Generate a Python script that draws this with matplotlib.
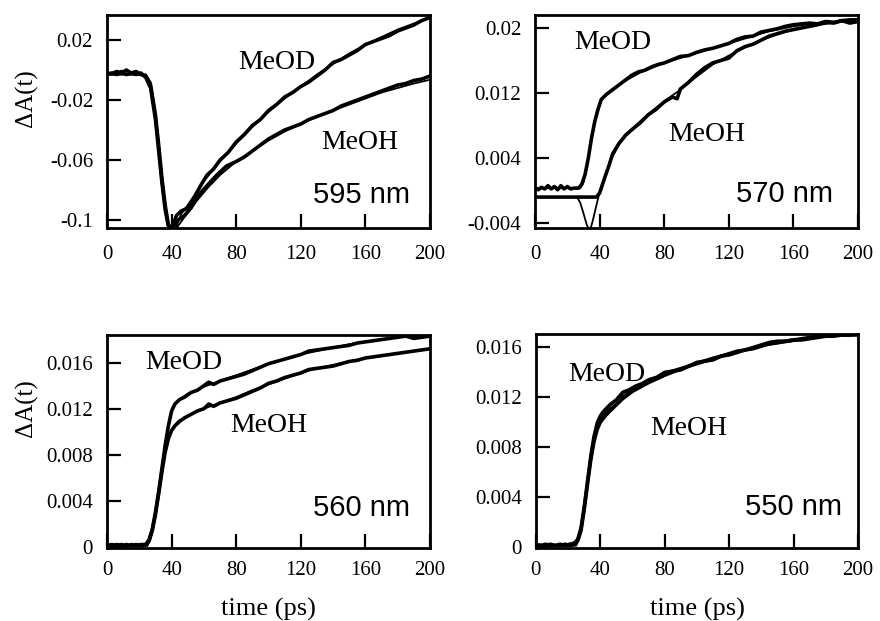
import matplotlib
matplotlib.use("Agg")
import matplotlib.pyplot as plt

# ---------------- 595 nm ----------------
t595_od = [0, 3, 6, 9, 12, 15, 18, 21, 24, 27, 30, 32, 34, 36, 38, 40, 43, 46, 50, 54, 58, 62, 66,
           70, 75, 80, 85, 90, 95, 100, 105, 110, 115, 120, 125, 130, 135, 140, 145, 150, 155,
           160, 165, 170, 175, 180, 185, 190, 195, 200]
d595_od = [-0.002, -0.0025, -0.001, -0.002, 0.0, -0.002, -0.001, -0.003, -0.004, -0.010, -0.030,
           -0.050, -0.072, -0.090, -0.103, -0.106, -0.097, -0.094, -0.092, -0.085, -0.077, -0.070,
           -0.066, -0.060, -0.055, -0.048, -0.043, -0.037, -0.033, -0.027, -0.023, -0.018, -0.015,
           -0.011, -0.008, -0.004, 0.000, 0.005, 0.007, 0.010, 0.013, 0.017, 0.019, 0.021, 0.023,
           0.026, 0.028, 0.030, 0.033, 0.035]
tf595_od = [0, 24, 27, 30, 33, 36, 38, 40, 43, 46, 50, 55, 60, 70, 80, 90, 100, 110, 120, 130, 140,
            150, 160, 170, 180, 190, 200]
f595_od = [-0.003, -0.003, -0.008, -0.028, -0.060, -0.090, -0.105, -0.112, -0.104, -0.096, -0.090,
           -0.082, -0.074, -0.061, -0.049, -0.038, -0.028, -0.019, -0.011, -0.003, 0.004, 0.011,
           0.017, 0.022, 0.027, 0.031, 0.035]
t595_oh = [0, 3, 6, 9, 12, 15, 18, 21, 24, 27, 30, 32, 34, 36, 38, 40, 44, 48, 52, 57, 62, 68, 74,
           80, 85, 90, 95, 100, 105, 110, 115, 120, 125, 130, 135, 140, 145, 150, 155, 160, 165,
           170, 175, 180, 185, 190, 195, 200]
d595_oh = [-0.003, -0.002, -0.003, -0.001, -0.003, -0.002, -0.003, -0.002, -0.005, -0.012, -0.033,
           -0.054, -0.075, -0.093, -0.104, -0.106, -0.100, -0.097, -0.092, -0.083, -0.077, -0.070,
           -0.064, -0.061, -0.058, -0.054, -0.050, -0.046, -0.043, -0.040, -0.038, -0.036, -0.033,
           -0.031, -0.029, -0.027, -0.024, -0.022, -0.020, -0.018, -0.016, -0.014, -0.012, -0.010,
           -0.009, -0.007, -0.006, -0.004]
tf595_oh = [0, 24, 27, 30, 33, 36, 38, 40, 44, 48, 55, 62, 70, 80, 90, 100, 110, 120, 130, 140,
            150, 160, 170, 180, 190, 200]
f595_oh = [-0.003, -0.003, -0.009, -0.030, -0.062, -0.092, -0.106, -0.110, -0.104, -0.098, -0.088,
           -0.079, -0.070, -0.061, -0.054, -0.047, -0.041, -0.036, -0.031, -0.027, -0.023, -0.019,
           -0.015, -0.012, -0.009, -0.0065]

# ---------------- 570 nm ----------------
t570_od = [0, 2, 4, 6, 8, 10, 12, 14, 16, 18, 20, 22, 24, 27, 29, 31, 33, 35, 37, 39, 41, 44, 48,
           52, 56, 60, 64, 68, 72, 76, 80, 85, 90, 95, 100, 105, 110, 115, 120, 125, 130, 135,
           140, 145, 150, 155, 160, 165, 170, 175, 180, 185, 190, 195, 200]
d570_od = [0.0003, 0.0001, 0.0004, 0.0002, 0.0006, 0.0002, 0.0005, 0.0001, 0.0006, 0.0002, 0.0005,
           0.0002, 0.0003, 0.0003, 0.0008, 0.002, 0.004, 0.0065, 0.0085, 0.010, 0.0112, 0.0118,
           0.0124, 0.013, 0.0136, 0.0142, 0.0146, 0.0148, 0.0152, 0.0155, 0.0157, 0.0161, 0.0165,
           0.0166, 0.017, 0.0173, 0.0175, 0.0178, 0.0181, 0.0186, 0.0189, 0.0190, 0.0195, 0.0197,
           0.0199, 0.0202, 0.0204, 0.0205, 0.0206, 0.0205, 0.0208, 0.0207, 0.0209, 0.0206, 0.0208]
tf570_od = [0, 28, 30, 32, 34, 36, 38, 40, 43, 48, 55, 65, 75, 85, 100, 115, 130, 145, 160, 175,
            190, 200]
f570_od = [0.0003, 0.0003, 0.001, 0.0028, 0.005, 0.0075, 0.0095, 0.0108, 0.0117, 0.0125, 0.0134,
           0.0145, 0.0153, 0.016, 0.0169, 0.0178, 0.0187, 0.0196, 0.0202, 0.0206, 0.0208, 0.0209]
t570_oh = [0, 38, 40, 43, 46, 48, 52, 56, 60, 65, 70, 75, 80, 85, 88, 90, 95, 100, 105, 110, 115,
           120, 125, 130, 135, 140, 145, 150, 155, 160, 165, 170, 175, 180, 185, 190, 195, 200]
d570_oh = [-0.0008, -0.0008, -0.0003, 0.0015, 0.0032, 0.0045, 0.0058, 0.0068, 0.0075, 0.0083,
           0.0093, 0.0100, 0.0109, 0.0115, 0.0113, 0.0125, 0.0133, 0.0143, 0.0151, 0.0157, 0.016,
           0.0163, 0.0172, 0.0177, 0.018, 0.0185, 0.019, 0.0193, 0.0196, 0.0198, 0.020, 0.0202,
           0.0204, 0.0207, 0.0206, 0.0209, 0.0210, 0.0210]
tf570_oh = [0, 26, 28, 30, 32, 34, 36, 38, 40, 43, 47, 52, 60, 70, 80, 90, 100, 110, 120, 130, 140,
            150, 160, 170, 180, 190, 200]
f570_oh = [-0.0008, -0.0008, -0.0015, -0.0028, -0.0042, -0.0050, -0.0035, -0.0018, -0.0002, 0.0016,
           0.0038, 0.0057, 0.0076, 0.0094, 0.0110, 0.0124, 0.0140, 0.0155, 0.0166, 0.0176, 0.0185,
           0.0192, 0.0198, 0.0202, 0.0205, 0.0208, 0.0210]

# ---------------- 560 nm ----------------
t560 = [0, 3, 6, 9, 12, 15, 18, 21, 24, 26, 28, 30, 32, 34, 36, 38, 40, 42, 45, 48, 52, 56, 60, 63,
        66, 70, 75, 80, 85, 90, 95, 100, 105, 110, 115, 120, 125, 130, 135, 140, 145, 150, 155,
        160, 165, 170, 175, 180, 185, 190, 195, 200]
d560_od = [0.0001, 0.0002, 0.0001, 0.0002, 0.0, 0.0002, 0.0001, 0.0002, 0.0002, 0.0006, 0.0015,
           0.003, 0.0048, 0.0068, 0.0088, 0.0105, 0.0118, 0.0124, 0.0128, 0.013, 0.0134, 0.0136,
           0.0140, 0.0143, 0.0141, 0.0144, 0.0146, 0.0148, 0.015, 0.0153, 0.0156, 0.0159, 0.0161,
           0.0163, 0.0165, 0.0167, 0.0170, 0.0171, 0.0172, 0.0173, 0.0174, 0.0175, 0.0177, 0.0178,
           0.0179, 0.0180, 0.0181, 0.0182, 0.0183, 0.0181, 0.0182, 0.0183]
d560_oh = [0.0002, 0.0001, 0.0002, 0.0001, 0.0002, 0.0001, 0.0002, 0.0001, 0.0002, 0.0005, 0.0014,
           0.0028, 0.0046, 0.0065, 0.0082, 0.0094, 0.0101, 0.0105, 0.0109, 0.0112, 0.0115, 0.0118,
           0.0120, 0.0124, 0.0122, 0.0125, 0.0127, 0.0129, 0.0132, 0.0135, 0.0138, 0.0142, 0.0144,
           0.0147, 0.0149, 0.0151, 0.0154, 0.0155, 0.0156, 0.0157, 0.0159, 0.0161, 0.0162, 0.0164,
           0.0165, 0.0166, 0.0167, 0.0168, 0.0169, 0.0170, 0.0171, 0.0172]
tf560 = [0, 25, 27, 29, 31, 33, 35, 37, 39, 41, 44, 50, 60, 70, 80, 90, 100, 110, 120, 130, 140,
         150, 160, 170, 180, 190, 200]
f560_od = [0.0001, 0.0001, 0.0008, 0.002, 0.0037, 0.0057, 0.0078, 0.0098, 0.0113, 0.0121, 0.0127,
           0.0133, 0.0139, 0.0144, 0.0149, 0.0154, 0.0159, 0.0163, 0.0167, 0.0170, 0.0173, 0.0176,
           0.0178, 0.0180, 0.0182, 0.0183, 0.0184]
f560_oh = [0.0001, 0.0001, 0.0007, 0.0019, 0.0036, 0.0055, 0.0073, 0.0088, 0.0098, 0.0104, 0.0109,
           0.0114, 0.0120, 0.0125, 0.0130, 0.0136, 0.0141, 0.0146, 0.0151, 0.0155, 0.0158, 0.0161,
           0.0164, 0.0166, 0.0168, 0.0170, 0.0172]

# ---------------- 550 nm ----------------
t550 = [0, 3, 6, 9, 12, 15, 18, 21, 24, 26, 28, 30, 32, 34, 36, 38, 40, 43, 46, 50, 54, 58, 62, 66,
        70, 75, 80, 85, 90, 95, 100, 105, 110, 115, 120, 125, 130, 135, 140, 145, 150, 155, 160,
        165, 170, 175, 180, 185, 190, 195, 200]
d550_od = [0.0001, 0.0001, 0.0002, 0.0001, 0.0001, 0.0002, 0.0001, 0.0002, 0.0003, 0.0006, 0.0015,
           0.0032, 0.0052, 0.0072, 0.0088, 0.0099, 0.0105, 0.0110, 0.0114, 0.0118, 0.0124, 0.0126,
           0.0129, 0.0131, 0.0134, 0.0136, 0.0140, 0.0141, 0.0143, 0.0145, 0.0148, 0.0149, 0.0151,
           0.0153, 0.0155, 0.0157, 0.0158, 0.0160, 0.0162, 0.0164, 0.0165, 0.0165, 0.0166, 0.0167,
           0.0168, 0.0169, 0.0169, 0.0170, 0.0170, 0.0170, 0.0171]
d550_oh = [0.0002, 0.0001, 0.0001, 0.0002, 0.0001, 0.0001, 0.0002, 0.0001, 0.0002, 0.0005, 0.0013,
           0.0030, 0.0050, 0.0069, 0.0084, 0.0094, 0.0100, 0.0105, 0.0109, 0.0114, 0.0119, 0.0123,
           0.0127, 0.0130, 0.0133, 0.0135, 0.0138, 0.0141, 0.0142, 0.0145, 0.0147, 0.0149, 0.0150,
           0.0153, 0.0154, 0.0156, 0.0158, 0.0159, 0.0161, 0.0163, 0.0164, 0.0165, 0.0166, 0.0166,
           0.0167, 0.0168, 0.0169, 0.0169, 0.0170, 0.0170, 0.0170]
tf550 = [0, 25, 27, 29, 31, 33, 35, 37, 39, 41, 45, 50, 60, 70, 80, 90, 100, 110, 120, 130, 140,
         150, 160, 170, 180, 190, 200]
f550_od = [0.0001, 0.0001, 0.0008, 0.0022, 0.0042, 0.0062, 0.0080, 0.0094, 0.0103, 0.0108, 0.0113,
           0.0118, 0.0126, 0.0132, 0.0138, 0.0143, 0.0148, 0.0152, 0.0155, 0.0158, 0.0161, 0.0164,
           0.0166, 0.0168, 0.0169, 0.0170, 0.0171]
f550_oh = [0.0001, 0.0001, 0.0007, 0.0020, 0.0039, 0.0059, 0.0077, 0.0090, 0.0099, 0.0104, 0.0110,
           0.0115, 0.0124, 0.0131, 0.0137, 0.0142, 0.0147, 0.0151, 0.0155, 0.0158, 0.0161, 0.0163,
           0.0165, 0.0167, 0.0169, 0.0170, 0.0171]

# ---------------- axes labels / ticks ----------------
x_ticks = [0, 40, 80, 120, 160, 200]
x_tick_labels = ["0", "40", "80", "120", "160", "200"]
y_ticks_595 = [0.02, -0.02, -0.06, -0.1]
y_labels_595 = ["0.02", "-0.02", "-0.06", "-0.1"]
y_ticks_570 = [0.02, 0.012, 0.004, -0.004]
y_labels_570 = ["0.02", "0.012", "0.004", "-0.004"]
y_ticks_56 = [0, 0.004, 0.008, 0.012, 0.016]
y_labels_56 = ["0", "0.004", "0.008", "0.012", "0.016"]
wavelengths = ["595 nm", "570 nm", "560 nm", "550 nm"]
solvents = ["MeOD", "MeOH"]

SERIF = "Liberation Serif"
SANS = "Liberation Sans"

fig = plt.figure(figsize=(8.8, 6.21), dpi=100)

panels = [
    dict(rect=[0.1216, 0.6329, 0.367, 0.343], ylim=(-0.1053, 0.0367),
         yt=y_ticks_595, yl=y_labels_595, wl=wavelengths[0],
         series=[(t595_od, d595_od), (t595_oh, d595_oh)],
         fits=[(tf595_od, f595_od), (tf595_oh, f595_oh)],
         od=(0.526, 0.779), oh=(0.783, 0.399), wpos=(0.789, 0.155),
         ylabel=(-0.215, 0.61), xpad=12.5, xlabel=False),
    dict(rect=[0.608, 0.6329, 0.367, 0.343], ylim=(-0.0046, 0.0216),
         yt=y_ticks_570, yl=y_labels_570, wl=wavelengths[1],
         series=[(t570_od, d570_od), (t570_oh, d570_oh)],
         fits=[(tf570_od, f570_od), (tf570_oh, f570_oh)],
         od=(0.241, 0.873), oh=(0.533, 0.437), wpos=(0.771, 0.160),
         ylabel=None, xpad=12.5, xlabel=False),
    dict(rect=[0.1216, 0.1176, 0.367, 0.343], ylim=(-0.0001, 0.0184),
         yt=y_ticks_56, yl=y_labels_56, wl=wavelengths[2],
         series=[(t560, d560_od), (t560, d560_oh)],
         fits=[(tf560, f560_od), (tf560, f560_oh)],
         od=(0.238, 0.869), oh=(0.502, 0.577), wpos=(0.789, 0.188),
         ylabel=(-0.215, 0.657), xpad=9.5, xlabel=True),
    dict(rect=[0.609, 0.1176, 0.366, 0.345], ylim=(-0.0001, 0.0171),
         yt=y_ticks_56, yl=y_labels_56, wl=wavelengths[3],
         series=[(t550, d550_od), (t550, d550_oh)],
         fits=[(tf550, f550_od), (tf550, f550_oh)],
         od=(0.220, 0.808), oh=(0.475, 0.556), wpos=(0.801, 0.192),
         ylabel=None, xpad=9.5, xlabel=True),
]

for p in panels:
    ax = fig.add_axes(p["rect"])
    for tt, vv in p["series"]:
        ax.plot(tt, vv, color="black", lw=2.6, solid_joinstyle="round", zorder=3)
    for tt, vv in p["fits"]:
        ax.plot(tt, vv, color="black", lw=1.3, zorder=4)
    ax.set_xlim(0, 200)
    ax.set_ylim(*p["ylim"])
    ax.set_xticks(x_ticks)
    ax.set_xticklabels(x_tick_labels, family=SERIF, fontsize=15)
    ax.set_yticks(p["yt"])
    ax.set_yticklabels(p["yl"], family=SERIF, fontsize=15)
    ax.tick_params(axis="both", direction="in", length=10, width=1.6)
    ax.tick_params(axis="x", pad=p["xpad"])
    ax.tick_params(axis="y", pad=10)
    for s in ax.spines.values():
        s.set_linewidth(2.0)
    ax.text(*p["od"], solvents[0], transform=ax.transAxes, family=SERIF,
            fontsize=20, ha="center", va="center")
    ax.text(*p["oh"], solvents[1], transform=ax.transAxes, family=SERIF,
            fontsize=20, ha="center", va="center")
    ax.text(*p["wpos"], p["wl"], transform=ax.transAxes, family=SANS,
            fontsize=21, ha="center", va="center")
    if p["ylabel"] is not None:
        ax.set_ylabel("ΔA(t)", family=SERIF, fontsize=18)
        ax.yaxis.set_label_coords(*p["ylabel"])
    if p["xlabel"]:
        ax.set_xlabel("time (ps)", family=SERIF, fontsize=19, labelpad=13)

fig.savefig("out.png", dpi=100)
